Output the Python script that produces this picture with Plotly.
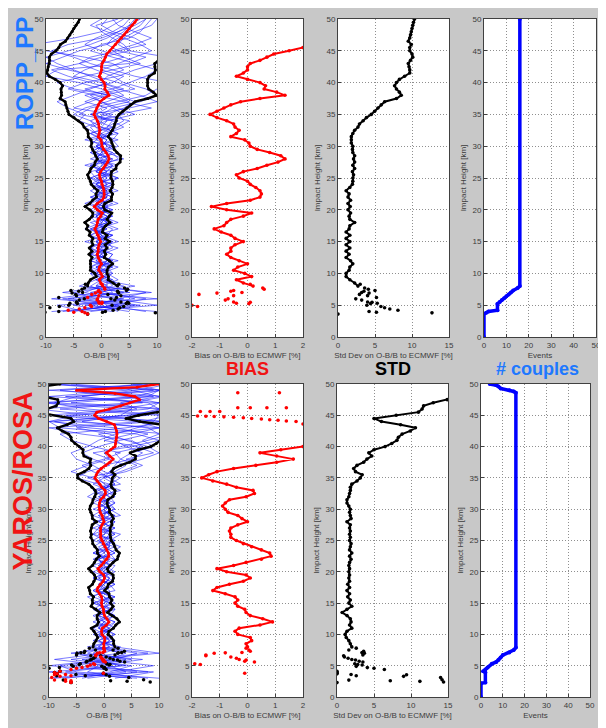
import plotly.graph_objects as go

# The page body adds an 8px margin; the figure is sized to fill the rest of the window.
PAGE_OFF = 8
W, H = 606 - PAGE_OFF, 728 - PAGE_OFF
FONT = "Liberation Sans, Arial, sans-serif"

# ---------------- data ----------------
heights_blue_ropp = list(range(4, 51))          # 4..50 km
heights_blue_yaros = list(range(3, 51))         # 3..50 km
heights_profile = [8.0 + 0.5 * i for i in range(85)]   # 8..50 km

ropp_bias = [0.2, -0.15, -0.4, 0.15, -0.1, -0.5, -0.35, 0.0, -0.3, -0.6,
             -0.75, -0.6, -0.6, -0.45, -0.15, -0.45, -0.6, -0.95, -1.2, -0.85,
             -0.75, -0.6, -0.15, 0.15, -0.75, -1.3, -0.75, 0.1, 0.45, 0.5,
             0.45, 0.3, 0.1, 0.0, -0.3, -0.4, -0.15, 0.35, 0.7, 1.1,
             1.35, 1.2, 0.8, 0.35, 0.1, 0.05, -0.1, -0.6, -0.4, -0.3,
             -0.45, -0.5, -0.75, -1.1, -1.35, -1.1, -0.85, -0.6, -0.25, 0.45,
             1.35, 1.05, 0.6, 0.65, 0.45, 0.0, -0.4, -0.15, 0.0, 0.0,
             0.1, 0.45, 0.7, 0.95, 1.5, 2.0, 2.5, 3.0, 3.6, 4.1,
             4.6, 5.0, 5.5, 6.0, 6.4]
ropp_std = [2.7, 2.25, 1.6, 1.1, 1.1, 1.5, 1.6, 2.0, 1.7, 1.1,
            1.5, 1.1, 1.6, 1.1, 1.6, 1.1, 1.6, 1.1, 1.5, 1.6,
            2.25, 1.6, 1.5, 1.7, 1.35, 1.65, 1.35, 1.7, 1.35, 1.5,
            1.1, 1.6, 1.95, 2.0, 2.0, 2.1, 1.95, 2.25, 2.0, 2.25,
            2.1, 2.25, 2.0, 1.95, 2.0, 1.8, 1.8, 1.8, 2.0, 2.25,
            2.7, 2.9, 3.4, 3.85, 4.5, 4.95, 5.4, 5.85, 6.3, 7.9,
            8.55, 8.3, 7.9, 7.65, 7.9, 8.3, 9.0, 9.7, 9.7, 9.6,
            9.5, 9.8, 10.1, 10.0, 9.7, 9.7, 9.9, 9.5, 9.7, 9.8,
            9.9, 10.0, 10.1, 10.2, 10.35]
yaros_bias = [0.0, -0.05, 0.15, 0.1, -0.35, -0.45, -0.3, 0.45, 0.9, 0.55,
              0.1, -0.05, -0.1, -0.35, -0.45, -0.35, -0.45, -0.8, -1.25, -1.1,
              -0.65, -0.15, 0.1, -0.05, -0.75, -1.1, -0.5, -0.05, 0.5, 0.85,
              0.8, 0.5, 0.15, -0.15, -0.4, -0.6, -0.6, -0.65, -0.6, -0.35,
              0.0, -0.2, -0.35, -0.7, -0.8, -0.9, -0.8, -0.65, -0.05, 0.25,
              0.2, -0.4, -0.75, -1.25, -1.65, -1.4, -1.1, -0.5, 0.3, 1.05,
              1.65, 1.05, 0.45, 1.2, 2.0, 2.1, 2.2, 2.3, 2.35, 2.3,
              2.1, 1.9, 0.5, -1.0, -1.7, -1.3, 1.0, 3.0, 4.7, 6.5,
              5.6, 2.0, -5.0, 6.0, 10.0]
yaros_std = [2.0, 1.8, 1.6, 1.25, 1.1, 1.35, 2.0, 1.7, 1.9, 1.8,
             1.35, 0.7, 1.35, 2.0, 1.6, 1.8, 1.45, 1.7, 1.35, 1.7,
             1.45, 1.7, 1.6, 1.7, 1.6, 1.7, 1.6, 1.7, 1.9, 1.7,
             2.0, 1.7, 1.8, 1.9, 1.7, 1.8, 1.7, 1.8, 1.7, 1.8,
             1.35, 1.9, 1.8, 1.7, 1.8, 1.6, 1.35, 1.35, 1.6, 1.7,
             1.8, 1.8, 2.0, 2.7, 3.15, 3.4, 2.5, 2.25, 2.7, 3.6,
             4.05, 4.7, 4.3, 5.0, 6.5, 7.4, 8.1, 8.3, 8.8, 9.9,
             10.6, 8.6, 6.0, 5.0, 8.0, 11.0, 11.5, 11.7, 13.0, 14.9,
             16.5, 17.0, 18.0, 18.0, 18.0]

# scattered low-altitude values (height, bias, std)
ropp_low_h = [8.3, 7.7, 7.5, 7.3, 7.2, 7.0, 6.9, 6.7, 6.5, 6.2, 6.0, 5.8, 5.5,
              5.45, 5.3, 5.25, 5.0, 4.8, 4.6, 4.4, 4.2, 4.0, 3.9, 3.8, 3.6]
ropp_low_bias = [0.1, 0.55, 0.6, -0.5, -0.6, -0.2, -1.1, -1.75, -0.5, -2.5, -0.7, -0.8, -0.5,
                 0.1, -0.4, 0.05, -2.0, -1.8, -3.0, -4.0, -6.0, -3.5, -5.0, -3.0, -2.5]
ropp_low_std = [3.0, 3.6, 4.1, 5.0, 3.5, 3.2, 4.2, 2.9, 4.0, 5.2, 2.4, 3.2, 4.0,
                4.6, 5.3, 4.4, 3.9, 5.8, 6.3, 7.0, 8.1, 4.2, 5.2, 12.7, 0.0]
yaros_low_h = [7.8, 7.5, 7.3, 7.1, 7.05, 7.0, 6.7, 6.6, 6.4, 6.2, 6.0, 5.9, 5.7, 5.6, 5.3,
               5.2, 5.1, 4.9, 4.7, 4.6, 4.4, 4.1, 3.9, 3.8, 3.7, 3.6, 3.55, 3.4, 3.3, 3.1,
               2.75, 2.7, 2.6, 2.5, 2.4, 2.3]
yaros_low_bias = [-0.05, 0.05, 0.1, -0.2, -0.8, -1.2, -1.5, -1.5, -0.6, -0.4, -0.3, -0.05, -0.1, 0.25, -1.9,
                  -1.7, -2.5, -3.0, -4.0, -5.0, -6.0, -8.0, -9.0, -0.1, -8.5, -7.0, -9.0, -6.0, -8.0, -9.5,
                  -7.0, -9.0, -6.0, -7.0, -6.0, -6.0]
yaros_low_std = [2.6, 1.6, 3.6, 3.4, 3.4, 3.7, 3.5, 0.9, 1.0, 1.5, 2.0, 2.5, 3.0, 3.5, 2.4,
                 2.8, 3.4, 2.6, 4.1, 5.0, 6.4, 0.0, 0.0, 0.0, 0.0, 1.9, 9.4, 2.6, 9.0, 14.0,
                 14.2, 1.6, 7.2, 11.2, 14.4, 0.0]

# extra bias dots seen in the YAROS BIAS panel above 43 km
yaros_bias_hi_h = [48.6, 48.6, 46.2, 46.2, 46.2, 46.2, 45.6, 45.6, 45.6,
                   44.9, 44.85, 44.8, 44.75, 44.7, 44.6, 44.5, 44.4, 44.3, 44.2, 44.1, 44.0, 43.6]
yaros_bias_hi_x = [-0.35, 1.15, -0.35, 0.1, 0.7, 1.4, -1.7, -1.35, -1.0,
                   -1.8, -1.5, -1.2, -0.85, -0.5, -0.15, 0.15, 0.5, 0.8, 1.1, 1.4, 1.75, 2.0]

# number of couples
ropp_count_h = [0, 3.6, 3.8, 4.0, 4.2, 5.2, 5.5, 5.8, 6.1, 6.4, 6.7, 7.0, 7.3, 7.7, 8.0, 50]
ropp_count = [0, 0, 1, 2, 6, 6, 7, 8, 9, 10, 11, 12, 13, 15, 16, 16]
yaros_count_h = [0, 2.2, 2.3, 3.9, 4.1, 4.4, 4.7, 5.3, 5.6, 5.9, 6.3, 6.7, 7.1, 7.5, 7.9,
                 48.6, 48.8, 49.0, 49.3, 49.6, 49.8, 50]
yaros_count = [0, 0, 2, 2, 1, 2, 3, 5, 7, 8, 9, 10, 13, 15, 16,
               16, 15, 13, 9, 8, 7, 4]

# individual O-B/B profiles [%] (ROPP: 4..50 km, YAROS: 3..50 km)
ropp_profiles = [
    [-7, 3, -4, 2, 1, -1, 2, 1, -2, 0, 1, -1, 2, -3, 0, 1, -2, 0, 2, -1, 1, 3, 0, -2, 4,
     1, -1, 2, 3, 0, -2, 1, 4, 6, 3, 0, -4, -10, -8, 5, 8, 3, 1, 2, 4, 5, 6],
    [-3, -8, 10, -2, 3, 2, -1, -2, 1, 2, -1, 3, 0, -2, 1, -1, 1, -3, 0, 2, -2, 0, 3, 1, -1,
     0, 2, -3, 1, 4, 2, -4, -2, 3, 8, 10, 12, 6, 2, -2, -5, -9, -6, 0, 3, 6, 8],
    [5, -2, 3, 8, -1, 0, 1, -1, 3, -2, 0, 2, -1, 1, -2, 2, 0, 1, -1, 3, 0, -2, 1, 2, 0,
     -2, 0, 1, -1, -3, 0, 2, -5, -2, 1, -3, 2, 4, 0, 3, 6, 9, 7, 4, 1, -2, 0],
    [-9, 6, -6, 4, -3, -2, 0, 3, -1, 1, -2, 0, 2, -1, 3, 0, -1, 2, -2, 1, -1, 2, -1, 0, 3,
     2, -2, -1, 2, 1, 3, -2, 0, 5, 2, -5, -8, -3, 2, 7, 4, 0, -3, -1, 2, 4, 5],
    [8, 1, -1, -5, 2, 1, -2, 0, 2, -1, 1, -3, 1, 2, -1, -2, 2, -1, 1, 0, 2, -1, -2, 3, -1,
     3, 1, 0, -2, 2, -1, 4, 2, 0, -3, 2, 5, 8, 10, 6, 2, -2, 0, 5, 7, 8, 9],
    [-4, 10, 2, -3, 0, 3, 1, -2, 0, -1, 2, 1, -2, 0, 2, 1, -1, 3, 0, -2, 1, 0, 2, -3, 1,
     0, 3, 2, 0, -1, -4, -3, -6, -8, -5, -2, 1, -2, -5, -8, -10, -6, -2, 1, 3, 5, 7],
    [2, -5, 6, 1, -2, 0, 2, -1, 1, 0, -2, 1, -1, 3, 0, -1, 1, 0, -2, 2, -1, 1, 0, 1, 2,
     -1, 0, -2, 3, 0, 1, 6, 3, 0, -2, 4, 0, -5, -3, 0, 4, 2, 6, 9, 6, 3, 2],
    [-6, 4, -9, 0, 4, -1, -2, 2, -2, 1, 0, -1, 2, -2, 1, 0, 1, -2, 1, -1, 2, -2, 1, -1, 0,
     2, -1, 0, 1, 3, 5, 0, 2, 7, 10, 8, 4, 2, -1, -4, -2, 3, 8, 6, 2, 0, 1],
    [10, -3, 4, -7, 1, 1, 0, -1, 2, -2, 1, 0, -2, 1, -1, 2, 0, -1, 1, 1, -2, 3, -1, 2, -2,
     1, -1, 3, -1, -2, 1, -1, 1, -3, 0, 6, 3, -1, -6, -10, -7, -4, 1, 3, 5, 7, 8],
    [-2, 7, -3, 9, -1, 2, -1, 1, -1, 0, 3, -1, 0, -1, 2, -2, 1, 1, -1, 0, 1, -1, 2, 0, 1,
     -1, 2, -1, 0, 2, 4, 3, 9, 4, -1, -6, -3, 3, 6, 10, 12, 5, 3, 4, 6, 9, 10],
    [3, 0, -7, 5, -4, -1, 1, 0, 1, 2, -1, 1, 0, -1, 0, 1, -1, 0, 2, -1, 0, 1, -1, 1, -1,
     0, 1, 0, 2, -1, -2, -5, -3, 1, 4, 2, -2, -6, -9, -4, 0, 5, 4, 2, 0, -1, 3],
    [-5, 2, 8, -1, 6, 0, -1, 2, 0, -1, 1, 2, -1, 0, 1, -1, 2, -1, 0, 1, -1, 0, 1, -2, 2,
     -2, 0, 1, -2, 1, 2, -2, 5, 10, 7, 3, 0, 1, 4, 2, -3, -10, -12, -5, 0, 2, 4],
]
yaros_profiles = [
    [-9, 8, -3, 5, -2, 1, 0, -1, 1, 2, -1, 0, 1, -2, 0, 1, -1, 2, 0, -1, 1, 3, 0, -2, 1, 0,
     -1, 2, 1, -2, 0, 1, -3, 2, 4, 1, -2, 5, 10, 6, -8, -10, 4, 12, -6, 9, -10, 8],
    [6, -10, 4, -6, 3, -1, 1, 0, -2, 1, 0, -1, 2, 0, -1, 2, 0, -1, 1, 2, -2, 0, 1, 3, -1, 1,
     2, -1, 0, 1, -2, 3, 1, -1, 0, 5, 7, 4, 2, -1, 10, 6, -10, 3, 10, -7, 12, -9],
    [-4, 2, 9, -1, -5, 2, -1, 2, 0, -1, 1, 2, -2, 1, 0, -1, 2, 0, -2, 1, 0, -1, 2, -1, 0, 2,
     0, 1, -2, 0, 2, -1, -5, -3, 1, -2, -4, -1, 3, 8, 2, -10, -5, 8, 10, 4, -8, 10],
    [10, -5, -8, 2, 6, -2, 2, 1, -1, 0, -2, 1, 0, 2, -2, 0, 1, -2, 1, 0, -1, 2, -2, 0, 2, -1,
     1, 0, 2, -1, 1, -2, 0, 3, 6, 3, 2, 7, 5, -4, -10, 7, 12, -3, -10, 6, 10, -6],
    [-7, 4, 1, -9, 0, 3, -2, 0, 1, -2, 1, 0, -1, -3, 2, 1, -2, 1, 0, -1, 2, 0, -1, 2, 0, -2,
     3, 1, -1, 2, 0, 1, 3, 0, -2, -5, -6, -3, -1, 2, 6, 10, -2, -12, 5, 11, -3, 7],
    [2, 9, -6, 4, -3, 0, 1, -1, 2, 0, -1, 2, 1, 0, -2, 0, 1, 0, -1, 2, 1, -2, 0, 1, -2, 1,
     -2, 0, 1, -1, 3, 0, -1, 4, 7, 4, 9, 6, 0, 5, 10, -6, 8, 10, -9, -5, 9, -10],
    [-10, 1, 5, -4, 8, -1, 0, 2, -1, 1, 0, -2, 0, 1, 1, -1, 0, 1, 2, -2, 0, 1, -1, 0, 1, 2,
     -1, 2, 0, -3, -1, 2, 1, -2, -4, 0, 3, -2, -6, -8, 4, 12, -7, 6, 3, 10, 5, -10],
    [8, -3, -1, 7, -6, 1, -1, 1, 0, 2, -1, 1, -2, 2, -1, 1, -1, 0, 1, -1, 2, 0, 2, -2, -1, 0,
     2, -2, 1, 0, -2, 1, 2, 1, 3, 7, 10, 8, 4, 1, -5, 9, 10, -8, 7, -4, 6, 12],
    [-3, 6, -10, 1, 4, -3, 2, -2, 1, -1, 2, -1, 1, -1, 0, 2, -2, 1, -1, 0, -1, 1, 0, 2, -1, 0,
     0, 1, -1, 2, 1, -1, -2, -6, -3, 1, 0, 3, 8, 12, -3, -9, 5, 10, 8, -10, 4, 8],
    [5, -7, 3, -2, 10, 2, 0, 1, -1, 0, 2, 0, -1, 1, -1, 0, 1, -1, 0, 1, -2, 1, 1, -1, 2, -1,
     1, 0, 2, 1, -1, 2, 0, 1, 2, 3, 5, 9, 7, 10, 8, -4, 3, 5, -12, 8, 10, 5],
]

for p in ropp_profiles:
    assert len(p) == len(heights_blue_ropp), len(p)
for p in yaros_profiles:
    assert len(p) == len(heights_blue_yaros), len(p)
for arr in (ropp_bias, ropp_std, yaros_bias, yaros_std):
    assert len(arr) == len(heights_profile)

# ---------------- figure ----------------
RED = "#ff0000"
BLUE_PT = "#0000ff"
BLUE_LINE = "rgba(20,20,255,0.62)"

fig = go.Figure()


def px(x):
    return (x - PAGE_OFF) / W


def py(y):
    return 1 - (y - PAGE_OFF) / H


def ax(i):
    return ("x" if i == 1 else f"x{i}"), ("y" if i == 1 else f"y{i}")


def panel1(i, prof_h, profiles, bias, std, low_h, low_bias, low_std):
    xa, ya = ax(i)
    for p in profiles:
        fig.add_trace(go.Scatter(x=p, y=prof_h, mode="lines", xaxis=xa, yaxis=ya,
                                 line=dict(color=BLUE_LINE, width=0.9), hoverinfo="skip"))
    lo = [b - s for b, s in zip(bias, std)]
    hi = [b + s for b, s in zip(bias, std)]
    for arr in (lo, hi):
        fig.add_trace(go.Scatter(x=arr, y=heights_profile, mode="lines+markers", xaxis=xa, yaxis=ya,
                                 line=dict(color="black", width=2.4), marker=dict(size=3, color="black")))
    llo = [b - s for b, s in zip(low_bias, low_std)]
    lhi = [b + s for b, s in zip(low_bias, low_std)]
    fig.add_trace(go.Scatter(x=llo + lhi, y=low_h + low_h, mode="markers", xaxis=xa, yaxis=ya,
                             marker=dict(size=3.5, color="black")))
    fig.add_trace(go.Scatter(x=bias, y=heights_profile, mode="lines+markers", xaxis=xa, yaxis=ya,
                             line=dict(color=RED, width=2.4), marker=dict(size=3, color=RED)))
    fig.add_trace(go.Scatter(x=low_bias, y=low_h, mode="markers", xaxis=xa, yaxis=ya,
                             marker=dict(size=3.5, color=RED)))


panel1(1, heights_blue_ropp, ropp_profiles, ropp_bias, ropp_std, ropp_low_h, ropp_low_bias, ropp_low_std)
panel1(5, heights_blue_yaros, yaros_profiles, yaros_bias, yaros_std, yaros_low_h, yaros_low_bias, yaros_low_std)


def dotted_profile(i, xs, ys, color):
    xa, ya = ax(i)
    fig.add_trace(go.Scatter(x=xs, y=ys, mode="lines+markers", xaxis=xa, yaxis=ya,
                             line=dict(color=color, width=2.0), marker=dict(size=3.6, color=color)))


def dots(i, xs, ys, color):
    xa, ya = ax(i)
    fig.add_trace(go.Scatter(x=xs, y=ys, mode="markers", xaxis=xa, yaxis=ya,
                             marker=dict(size=3.6, color=color)))


# BIAS panels
dotted_profile(2, ropp_bias, heights_profile, RED)
dots(2, ropp_low_bias, ropp_low_h, RED)
yb = [(b, h) for b, h in zip(yaros_bias, heights_profile) if h <= 43.0]
dotted_profile(6, [b for b, _ in yb], [h for _, h in yb], RED)
dots(6, yaros_low_bias + yaros_bias_hi_x, yaros_low_h + yaros_bias_hi_h, RED)

# STD panels
dotted_profile(3, ropp_std, heights_profile, "black")
dots(3, ropp_low_std, ropp_low_h, "black")
dotted_profile(7, yaros_std, heights_profile, "black")
dots(7, yaros_low_std, yaros_low_h, "black")

# count panels
for i, ch, cv in ((4, ropp_count_h, ropp_count), (8, yaros_count_h, yaros_count)):
    xa, ya = ax(i)
    fig.add_trace(go.Scatter(x=cv, y=ch, mode="lines+markers", xaxis=xa, yaxis=ya,
                             line=dict(color=BLUE_PT, width=3.5), marker=dict(size=4, color=BLUE_PT)))

# ---------------- axes (positions in window pixels) ----------------
X_PIX = {1: (46, 157), 2: (192, 303), 3: (338, 449), 4: (484, 596),
         5: (49, 159), 6: (192, 303), 7: (337, 448), 8: (481, 590)}
Y_TOP, Y_BOT = (19, 337), (384, 697)
XSPEC = {1: ([-10, 10], [-10, -5, 0, 5, 10], "O-B/B [%]"),
         2: ([-2, 2], [-2, -1, 0, 1, 2], "Bias on O-B/B to ECMWF [%]"),
         3: ([0, 15], [0, 5, 10, 15], "Std Dev on O-B/B to ECMWF [%]"),
         4: ([0, 50], [0, 10, 20, 30, 40, 50], "Events")}

common = dict(showline=True, linecolor="#404040", linewidth=1, mirror=True,
              ticks="inside", ticklen=3, tickcolor="#404040",
              showgrid=True, gridcolor="#8f8f8f", griddash="1px,2px", gridwidth=1,
              zeroline=False, automargin=False,
              tickfont=dict(size=8, color="#3c3c3c", family=FONT),
              fixedrange=True)

layout_axes = {}
for i in range(1, 9):
    xa, ya = ax(i)
    x0, x1 = X_PIX[i]
    yt, yb_ = Y_TOP if i <= 4 else Y_BOT
    rng, tv, title = XSPEC[(i - 1) % 4 + 1]
    layout_axes["xaxis" if i == 1 else f"xaxis{i}"] = dict(
        common, domain=[px(x0), px(x1)], anchor=ya, range=rng,
        tickvals=tv, ticktext=[str(v) for v in tv],
        title=dict(text=title, font=dict(size=8, color="#3c3c3c", family=FONT), standoff=3))
    layout_axes["yaxis" if i == 1 else f"yaxis{i}"] = dict(
        common, domain=[py(yb_), py(yt)], anchor=xa, range=[0, 50],
        tickvals=list(range(0, 51, 5)),
        title=dict(text="Impact Height [km]", font=dict(size=8, color="#3c3c3c", family=FONT), standoff=4))

ann = [
    dict(text="<b>ROPP_PP</b>", x=px(24), y=py(74), textangle=-90,
         font=dict(size=24, color="#1e78ff", family=FONT)),
    dict(text="<b>YAROS/ROSA</b>", x=px(22.5), y=py(481), textangle=-90,
         font=dict(size=27, color="#f01414", family=FONT)),
    dict(text="<b>BIAS</b>", x=px(247), y=py(369), font=dict(size=18, color="#f01414", family=FONT)),
    dict(text="<b>STD</b>", x=px(393), y=py(369), font=dict(size=18, color="black", family=FONT)),
    dict(text="<b># couples</b>", x=px(537), y=py(369), font=dict(size=18, color="#1e78ff", family=FONT)),
]
for a in ann:
    a.update(xref="paper", yref="paper", showarrow=False, xanchor="center", yanchor="middle")

fig.update_layout(
    template="none",
    width=W, height=H, margin=dict(l=0, r=0, t=0, b=0, autoexpand=False),
    paper_bgcolor="#c8c8c8", plot_bgcolor="white", showlegend=False,
    font=dict(family=FONT), annotations=ann,
    **layout_axes,
)

fig.write_html("out.html")
